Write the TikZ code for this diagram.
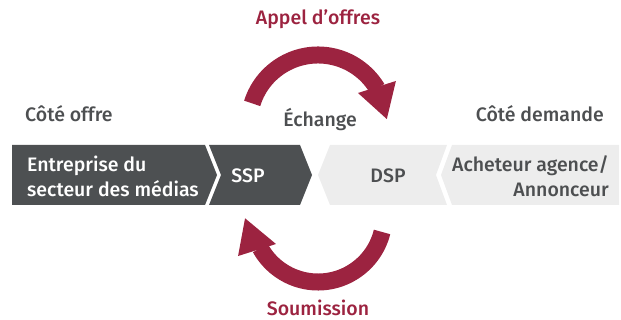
\documentclass[tikz,border=0pt]{standalone}
\usepackage{fontspec}
\setmainfont{Fira Sans}[UprightFont={* Medium}]
\usepackage{tikz}
\usetikzlibrary{calc}

\definecolor{darkgrey}{HTML}{4D5052}
\definecolor{lightgrey}{HTML}{EDEDED}
\definecolor{textgrey}{HTML}{4D4F51}
\definecolor{wine}{HTML}{9C2340}

\tikzset{
  band/.style={draw=wine, line width=17pt},
  tip/.style={fill=wine},
  lbl/.style={textgrey, anchor=base},
}

\begin{document}
\begin{tikzpicture}[x=1pt, y=1pt, inner sep=0pt, font=\fontsize{19.5}{25}\selectfont]
		\useasboundingbox (0,0) rectangle (621,320);
		
		% --- 1. the bar ---
		\def\barT{175}
		\def\barB{115}
		\def\barM{145}
		\fill[darkgrey] (12,\barB) -- (12,\barT) -- (205,\barT) -- (217,\barM) -- (205,\barB) -- cycle;
		\fill[darkgrey] (209,\barB) -- (221,\barM) -- (209,\barT) -- (300,\barT) -- (312,\barM) -- (300,\barB) -- cycle;
		\fill[lightgrey] (318,\barM) -- (330,\barT) -- (447,\barT) -- (436,\barM) -- (447,\barB) -- (330,\barB) -- cycle;
		\fill[lightgrey] (441,\barM) -- (452,\barT) -- (619,\barT) -- (619,\barB) -- (452,\barB) -- cycle;
		
		% texts in the bar
		\node[white, anchor=west, align=left] (media) at (27,144) {Entreprise du\\secteur des médias};
		\node[white] (ssp) at (248,144) {SSP};
		\node[textgrey] (dsp) at (388,144) {DSP};
		\node[textgrey, anchor=east, align=right] (buyer) at (609,143.5) {Acheteur agence/\\Annonceur};
		
		% --- 2. headings over the bar ---
		\node[lbl, anchor=base west] (supply) at (25,198) {Côté offre};
		\node[lbl] (exchange) at (320,193) {Échange};
		\node[lbl, anchor=base east] (demand) at (604,198) {Côté demande};
		
		% --- 3. upper arrow ---
		\coordinate (topc) at (318,196);
		\draw[band] ($(topc)+(162.6:69)$) arc[start angle=162.6, end angle=31, radius=69];
		\fill[tip] ($(topc)+(28.9:89)$) -- ($(topc)+(4.1:69)$) -- ($(topc)+(37.8:50.6)$) -- cycle;
		\node[lbl, wine] (tender) at (318,295) {Appel d’offres};
		
		% --- 4. lower arrow ---
		\coordinate (botc) at (318,104);
		\draw[band] ($(botc)+(-14:66)$) arc[start angle=-14, end angle=-151, radius=66];
		\fill[tip] ($(botc)+(206.6:89.4)$) -- ($(botc)+(181.8:73)$) -- ($(botc)+(213.7:50.5)$) -- cycle;
		\node[lbl, wine] (bid) at (318,4) {Soumission};
		
	\end{tikzpicture}
\end{document}
